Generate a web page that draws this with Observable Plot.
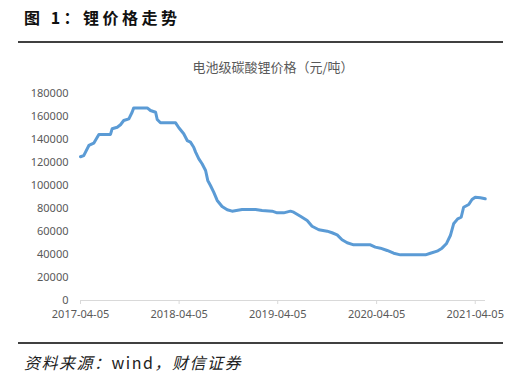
<!DOCTYPE html>
<html>
<head>
<meta charset="utf-8">
<script src="https://cdn.jsdelivr.net/npm/d3@7"></script>
<script src="https://cdn.jsdelivr.net/npm/@observablehq/plot@0.6"></script>
<style>
  html, body { margin: 0; padding: 0; background: #fff; }
  #wrap { position: relative; width: 514px; height: 388px; overflow: hidden; font-family: "Noto Sans CJK SC", "Noto Sans", sans-serif; }
  #title { position: absolute; left: 24px; top: 5px; font-size: 16px; font-weight: bold; color: #111; letter-spacing: 3.5px; white-space: nowrap; }
  .rule { position: absolute; left: 18px; width: 485px; height: 2px; background: #404040; }
  #ctitle { position: absolute; left: 0; width: 546px; top: 57px; text-align: center; font-size: 13px; color: #595959; white-space: nowrap; z-index: 2; }
  #chart { position: absolute; left: 0; top: 45px; z-index: 1; }
  #source { position: absolute; left: 24px; top: 350px; font-size: 16px; color: #222; white-space: nowrap; letter-spacing: 1.5px; }
  #source i { font-style: italic; }
</style>
</head>
<body>
<div id="wrap">
  <div id="title">图 1：锂价格走势</div>
  <div class="rule" style="top:41px"></div>
  <div id="chart"></div>
  <div id="ctitle">电池级碳酸锂价格（元/吨）</div>
  <div class="rule" style="top:342px"></div>
  <div id="source"><i>资料来源：</i>wind<i>，财信证券</i></div>
</div>
<script>
const dates = [
  "2017-04-05","2017-04-17","2017-05-06","2017-05-24","2017-06-06","2017-06-12","2017-07-25","2017-07-31",
  "2017-08-19","2017-08-31","2017-09-12","2017-10-01","2017-10-13","2017-10-19","2017-12-08","2017-12-20",
  "2018-01-08","2018-01-14","2018-01-26","2018-03-23","2018-04-04","2018-04-22","2018-05-05","2018-05-17",
  "2018-05-29","2018-06-05","2018-06-17","2018-06-29","2018-07-12","2018-07-20","2018-07-30","2018-08-11",
  "2018-08-24","2018-09-11","2018-09-30","2018-10-18","2018-11-24","2019-01-13","2019-02-06","2019-03-15",
  "2019-04-03","2019-04-27","2019-05-22","2019-06-03","2019-06-28","2019-07-23","2019-08-10","2019-09-04",
  "2019-10-05","2019-10-23","2019-11-11","2019-11-29","2019-12-18","2020-01-11","2020-03-13","2020-03-31",
  "2020-04-19","2020-05-14","2020-06-07","2020-07-02","2020-10-03","2020-10-21","2020-11-15","2020-12-03",
  "2020-12-19","2021-01-03","2021-01-15","2021-01-30","2021-02-12","2021-02-21","2021-03-12","2021-03-24",
  "2021-04-05","2021-04-24","2021-05-12"
];
const prices = [
  125000,126000,134800,136800,142000,144400,144400,149300,
  150700,152800,156500,158000,163700,167500,167500,165200,
  163700,157400,154500,154500,150200,145000,139100,137700,
  133300,129000,123200,118900,113000,104400,100000,94200,
  87000,81700,78900,77700,79100,79100,78300,77700,
  76200,76200,77700,76800,73300,69600,64600,61500,
  60300,58900,57100,52800,50200,48400,48400,46400,
  45500,43500,41100,39700,39700,41100,42900,45500,
  49300,56500,66700,71000,72400,81100,83500,87800,
  89800,89300,88400
];
const xTicks = ["2017-04-05","2018-04-05","2019-04-05","2020-04-05","2021-04-05"];
const yTicks = [0,20000,40000,60000,80000,100000,120000,140000,160000,180000];

const parse = d3.utcParse("%Y-%m-%d");
const data = dates.map((d, i) => ({date: parse(d), price: prices[i]}));
const fmtDate = d3.utcFormat("%Y-%m-%d");

const chart = Plot.plot({
  width: 514,
  height: 287,
  marginLeft: 80,
  marginRight: 29,
  marginTop: 48,
  marginBottom: 32,
  style: {fontFamily: "'Noto Sans', 'DejaVu Sans', sans-serif", fontSize: "11px", color: "#595959", background: "transparent"},
  x: {type: "utc", domain: [parse("2017-04-05"), parse("2021-05-13")], label: null},
  y: {domain: [0, 180000], label: null},
  marks: [
    Plot.ruleY([0], {stroke: "#d9d9d9", strokeWidth: 1}),
    Plot.axisX({ticks: xTicks.map(parse), tickFormat: fmtDate, tickSize: 4, tickPadding: 6, stroke: "#d9d9d9", fill: "#595959", fontSize: 11, label: null}),
    Plot.axisY({ticks: yTicks, tickFormat: d3.format("d"), tickSize: 0, tickPadding: 12, fill: "#595959", fontSize: 11, label: null}),
    Plot.line(data, {x: "date", y: "price", stroke: "#5b9bd5", strokeWidth: 3, strokeLinejoin: "round", strokeLinecap: "round"})
  ]
});
document.getElementById("chart").appendChild(chart);
</script>
</body>
</html>
